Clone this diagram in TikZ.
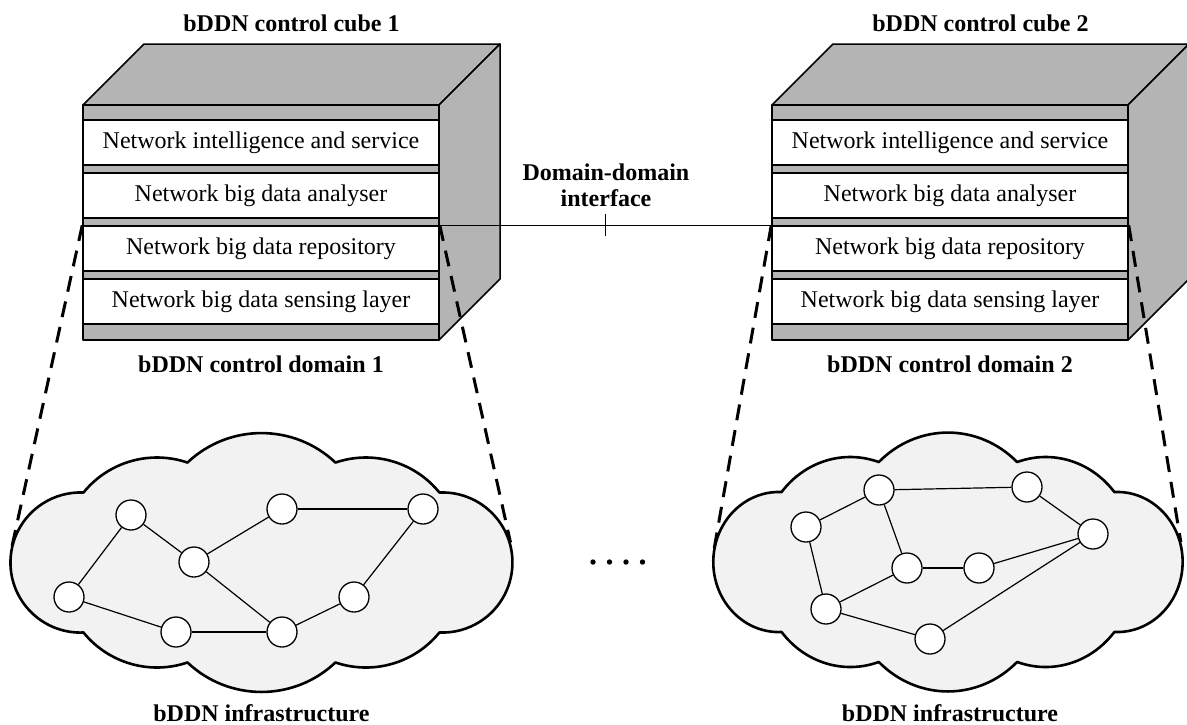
\documentclass[tikz,border=0pt]{standalone}
\usepackage{fontspec}
\setmainfont{Liberation Serif}
\definecolor{facegray}{RGB}{180,180,180}
\definecolor{cloudfill}{RGB}{242,242,242}
\tikzset{
  facestyle/.style={fill=facegray, draw=black, line width=1.5pt, line join=round},
  layerbox/.style={draw=black, line width=1.5pt, fill=white, minimum width=356pt, minimum height=45pt,
    inner sep=0pt, font=\fontsize{24}{28}\selectfont, text height=16.4pt, text depth=5.2pt},
  lbltext/.style={font=\bfseries\fontsize{24}{26}\selectfont, inner sep=0pt},
  cloudstyle/.style={fill=cloudfill, draw=black, line width=2.6pt, line join=round},
  netnode/.style={circle, draw=black, fill=white, line width=1.3pt, minimum size=30pt, inner sep=0pt},
  netedge/.style={draw=black, line width=1.2pt},
  zoomline/.style={draw=black, line width=3pt, dash pattern=on 16pt off 10pt},
  ifline/.style={draw=black, line width=1.2pt}
}
\newcommand{\ctrlcube}[3]{%
 \begin{scope}[shift={(#1,0)}]
  \filldraw[facestyle] (0,105) -- (61,44) -- (417,44) -- (356,105) -- cycle;
  \filldraw[facestyle] (356,105) -- (417,44) -- (417,279) -- (356,340) -- cycle;
  \filldraw[facestyle] (0,105) rectangle (356,340);
  \node[layerbox] (#2a) at (178,142.5) {Network intelligence and service};
  \node[layerbox] (#2b) at (178,195.5) {Network big data analyser};
  \node[layerbox] (#2c) at (178,248.5) {Network big data repository};
  \node[layerbox] (#2d) at (178,301.5) {Network big data sensing layer};
  \node[lbltext, anchor=base] (#2t) at (208.5,31.5) {bDDN control cube #3};
  \node[lbltext, anchor=base] (#2dom) at (178,372) {bDDN control domain #3};
 \end{scope}}
\newcommand{\cloudshape}[3]{%
 \begin{scope}[shift={#1}, xscale=#2]
  \filldraw[cloudstyle] (-178,70)
    arc[start angle=87.55, end angle=272.45, radius=70.06]
    arc[start angle=219.04, end angle=288.8, radius=94.6]
    arc[start angle=226.55, end angle=313.45, radius=107.6]
    arc[start angle=251.2, end angle=320.96, radius=94.6]
    arc[start angle=267.55, end angle=452.45, radius=70.06]
    arc[start angle=39.04, end angle=108.8, radius=94.6]
    arc[start angle=46.55, end angle=133.45, radius=107.6]
    arc[start angle=71.2, end angle=140.96, radius=94.6]
    -- cycle;
  \coordinate (#3w) at (-250,-14);
  \coordinate (#3e) at (249,-20);
 \end{scope}}
\begin{document}
\begin{tikzpicture}[x=1pt,y=-1pt]
\clip (0,0) rectangle (1187,724);
\fill[white] (0,0) rectangle (1187,724);

% control cubes
\ctrlcube{83}{ca}{1}
\ctrlcube{772}{cb}{2}

% domain-domain interface
\draw[ifline] (cac.north east) -- (cbc.north west) coordinate[midway] (ifmid);
\draw[ifline] (ifmid) ++(0,-11) -- ++(0,22);
\node[lbltext, align=center] (iflabel) at (606,185) {Domain-domain\\interface};

% clouds
\cloudshape{(261.5,562.5)}{1}{cla}
\cloudshape{(948,562)}{0.935}{clb}

% zoom lines
\draw[zoomline] (cac.north west) -- (claw);
\draw[zoomline] (cac.north east) -- (clae);
\draw[zoomline] (cbc.north west) -- (clbw);
\draw[zoomline] (cbc.north east) -- (clbe);

% network 1
\node[netnode] (n1) at (131,515) {};
\node[netnode] (n2) at (282,509) {};
\node[netnode] (n3) at (423,509) {};
\node[netnode] (n4) at (194,562) {};
\node[netnode] (n5) at (69,597) {};
\node[netnode] (n6) at (354,597) {};
\node[netnode] (n7) at (176,632) {};
\node[netnode] (n8) at (282,632) {};
\draw[netedge] (n1) -- (n5);
\draw[netedge] (n1) -- (n4);
\draw[netedge] (n4) -- (n2);
\draw[netedge] (n2) -- (n3);
\draw[netedge] (n3) -- (n6);
\draw[netedge] (n6) -- (n8);
\draw[netedge] (n4) -- (n8);
\draw[netedge] (n5) -- (n7);
\draw[netedge] (n7) -- (n8);

% network 2
\node[netnode] (m1) at (879,490) {};
\node[netnode] (m2) at (1027,487) {};
\node[netnode] (m3) at (806,527) {};
\node[netnode] (m4) at (1093,534) {};
\node[netnode] (m5) at (907,568) {};
\node[netnode] (m6) at (979,568) {};
\node[netnode] (m7) at (826,609) {};
\node[netnode] (m8) at (930,639) {};
\draw[netedge] (m3) -- (m1);
\draw[netedge] (m1) -- (m2);
\draw[netedge] (m1) -- (m5);
\draw[netedge] (m2) -- (m4);
\draw[netedge] (m3) -- (m7);
\draw[netedge] (m5) -- (m6);
\draw[netedge] (m6) -- (m4);
\draw[netedge] (m5) -- (m7);
\draw[netedge] (m7) -- (m8);
\draw[netedge] (m8) -- (m4);

% ellipsis dots
\fill (593,562) circle[radius=2.7];
\fill (609.5,562) circle[radius=2.7];
\fill (626,562) circle[radius=2.7];
\fill (642.5,562) circle[radius=2.7];

% infrastructure labels
\node[lbltext, anchor=base] (infa) at (261.5,721) {bDDN infrastructure};
\node[lbltext, anchor=base] (infb) at (950,721) {bDDN infrastructure};
\end{tikzpicture}
\end{document}
